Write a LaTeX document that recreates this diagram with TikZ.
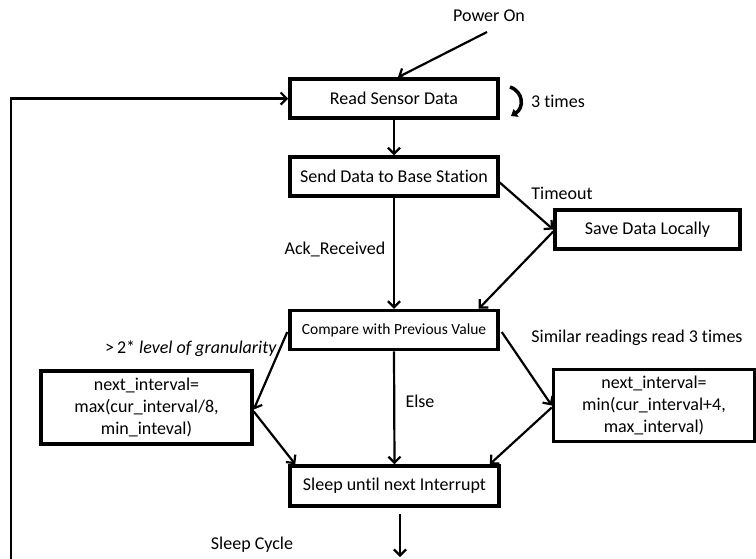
\documentclass[tikz,border=0pt]{standalone}
\usepackage{fontspec}
\setmainfont{Carlito}[Ligatures=NoCommon]
\usetikzlibrary{arrows.meta,calc}
\begin{document}
\begin{tikzpicture}[x=1pt,y=-1pt,
  font=\fontsize{18}{22}\selectfont,
  box/.style={draw=black,line width=3.5pt,rectangle,inner sep=0pt,align=center},
  conn/.style={line width=2.2pt,-{Straight Barb[length=6pt,width=12pt,line width=2.2pt]}},
  lbl/.style={inner sep=0pt,anchor=center}]
\useasboundingbox (0,0) rectangle (756,558);
\node[box,minimum width=208,minimum height=39] (read) at (394,98.5) {Read Sensor Data};
\node[box,minimum width=208,minimum height=39] (send) at (394,176.5) {Send Data to Base Station};
\node[box,minimum width=185,minimum height=39] (save) at (647.5,229.5) {Save Data Locally};
\node[box,minimum width=208,minimum height=39,font=\fontsize{15.5}{18}\selectfont] (cmp) at (394,330) {Compare with Previous Value};
\node[box,minimum width=211,minimum height=73] (left) at (146.5,407.5) {next\_interval=\\max(cur\_interval/8,\\min\_inteval)};
\node[box,minimum width=201,minimum height=72] (right) at (654,405.5) {next\_interval=\\min(cur\_interval+4,\\max\_interval)};
\node[box,minimum width=209,minimum height=40] (sleep) at (394.5,486) {Sleep until next Interrupt};
% labels
\node[lbl] (pwr) at (489,16) {Power On};
\node[lbl] (three) at (558,101) {3 times};
\node[lbl] (tout) at (562,193) {Timeout};
\node[lbl] (ack) at (335,249) {Ack\_Received};
\node[lbl,anchor=east] (gran) at (277,349) {>\,2* \textit{level of granularity}};
\node[lbl] (else) at (420,401) {Else};
\node[lbl] (sim) at (637,338) {Similar readings read 3 times};
\node[lbl] (scyc) at (252,545) {Sleep Cycle};
\coordinate (pstart) at (487,32);
\coordinate (endpt) at (400,557);
\coordinate (lb) at (11,560);
% connectors
\draw[conn] (pstart) -- ($(read.north)+(4,0)$);
\draw[conn] (read.south) -- (send.north);
\draw[conn] ($(send.east)+(0,6)$) -- (save.west);
\draw[conn] (send.south) -- (cmp.north);
\draw[conn] ($(save.west)+(0,2)$) -- ($(cmp.north east)+(-21,0)$);
\draw[conn] ($(cmp.west)+(-1,2)$) -- ($(left.east)+(0,2)$);
\draw[conn] ($(left.east)+(0,4)$) -- ($(sleep.north west)+(7,0)$);
\draw[conn] (cmp.south) -- (sleep.north);
\draw[conn] ($(cmp.east)+(2,2)$) -- (right.west);
\draw[conn] ($(right.west)+(0,2)$) -- ($(sleep.north east)+(-11,0)$);
\draw[conn] ($(sleep.south)+(5.5,6)$) -- (endpt);
\draw[conn] (lb) |- (read.west);
% 3 times loop
\draw[line width=3.5pt,-{Triangle[length=6pt,width=9pt]}] (510,87) .. controls (524,92) and (524,108) .. (511,116);
\end{tikzpicture}
\end{document}
